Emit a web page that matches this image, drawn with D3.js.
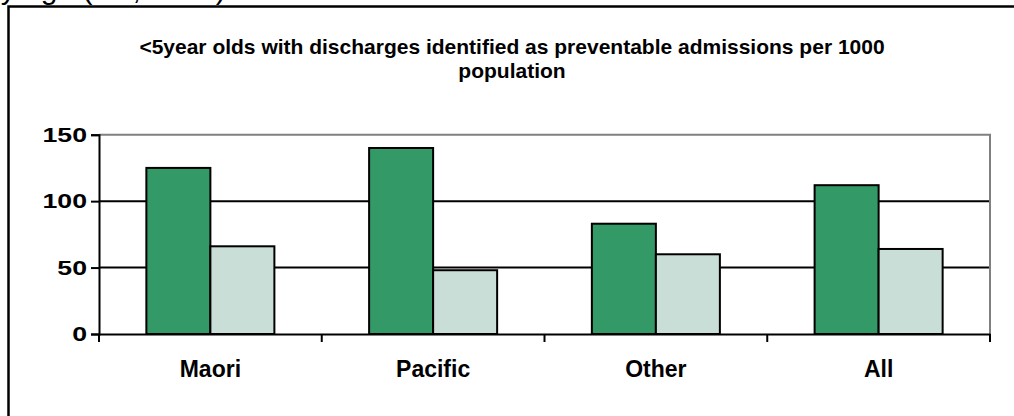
<!DOCTYPE html>
<html>
<head>
<meta charset="utf-8">
<script src="https://cdn.jsdelivr.net/npm/d3@7"></script>
<style>
  html, body { margin: 0; padding: 0; background: #fff; }
  svg { display: block; font-family: Arial, "Liberation Sans", sans-serif; }
</style>
</head>
<body>
<svg id="chart" width="1014" height="416"></svg>
<script>
// Preventable admissions, children under 5, per 1000 population
const categories = ["Maori", "Pacific", "Other", "All"];
const seriesNames = ["Series A", "Series B"];
const seriesA = [125, 140, 83, 112];
const seriesB = [66, 48, 60, 64];
const yTicks = [0, 50, 100, 150];
const titleLines = [
  "<5year olds with discharges identified as preventable admissions per 1000",
  "population"
];
const captionText = "by age (NZ, 2003)";

const colors = { "Series A": "#339966", "Series B": "#C9DED7" };

const svg = d3.select("#chart");
const plot = { left: 99, right: 990, top: 134.7, bottom: 334 };
const tickStretch = 1.27;

// caption line running off the top edge
svg.append("text")
  .attr("x", -16)
  .attr("y", -1)
  .attr("font-size", 30)
  .attr("fill", "#000")
  .text(captionText);

// chart frame (left and top edges fall inside the page)
svg.append("rect")
  .attr("x", 8.5).attr("y", 6.5)
  .attr("width", 1100).attr("height", 500)
  .attr("fill", "none")
  .attr("stroke", "#000")
  .attr("stroke-width", 2.5);

// title
const title = svg.append("text")
  .attr("text-anchor", "middle")
  .attr("font-size", 21)
  .attr("font-weight", "bold")
  .attr("fill", "#000");
titleLines.forEach((t, i) => {
  title.append("tspan").attr("x", 512).attr("y", 54 + i * 24).text(t);
});

// scales
const x0 = d3.scaleBand().domain(categories).range([plot.left, plot.right]).padding(0);
const x1 = d3.scaleBand().domain(seriesNames).range([0, x0.bandwidth()])
  .paddingInner(0).paddingOuter(0.74);
const y = d3.scaleLinear().domain([0, 150]).range([plot.bottom, plot.top]);

// gridlines
svg.append("g")
  .selectAll("line")
  .data(yTicks.filter(d => d > 0 && d < 150))
  .join("line")
  .attr("x1", plot.left).attr("x2", plot.right)
  .attr("y1", d => y(d)).attr("y2", d => y(d))
  .attr("stroke", "#000").attr("stroke-width", 2);

// plot area top and right edges
svg.append("path")
  .attr("d", `M${plot.left},${y(150)}H${plot.right}V${plot.bottom}`)
  .attr("fill", "none")
  .attr("stroke", "#808080")
  .attr("stroke-width", 2);

// bars
const rows = categories.map((c, i) => ({ cat: c, vals: [
  { key: "Series A", v: seriesA[i] },
  { key: "Series B", v: seriesB[i] }
]}));

svg.append("g")
  .selectAll("g")
  .data(rows)
  .join("g")
  .attr("transform", d => `translate(${x0(d.cat)},0)`)
  .selectAll("rect")
  .data(d => d.vals)
  .join("rect")
  .attr("x", d => x1(d.key))
  .attr("y", d => y(d.v))
  .attr("width", x1.bandwidth())
  .attr("height", d => y(0) - y(d.v))
  .attr("fill", d => colors[d.key])
  .attr("stroke", "#000")
  .attr("stroke-width", 2);

// y axis
const yAxis = svg.append("g")
  .attr("transform", `translate(${plot.left},0)`)
  .call(d3.axisLeft(y).tickValues(yTicks).tickSize(8).tickPadding(4));
yAxis.select(".domain").attr("stroke", "#000").attr("stroke-width", 2);
yAxis.selectAll(".tick line").attr("stroke", "#000").attr("stroke-width", 2);
yAxis.selectAll(".tick text")
  .attr("font-size", 21).attr("font-weight", "bold").attr("fill", "#000")
  .attr("font-family", "Arial, 'Liberation Sans', sans-serif")
  .attr("x", -12 / tickStretch)
  .attr("transform", `scale(${tickStretch},1)`);

// x axis
const xAxis = svg.append("g")
  .attr("transform", `translate(0,${plot.bottom})`)
  .call(d3.axisBottom(x0).tickSize(0).tickPadding(27));
xAxis.select(".domain").attr("stroke", "#000").attr("stroke-width", 2);
xAxis.selectAll(".tick text")
  .attr("font-size", 23).attr("font-weight", "bold").attr("fill", "#000")
  .attr("font-family", "Arial, 'Liberation Sans', sans-serif");

// category separator ticks
const bounds = categories.map(c => x0(c)).concat([plot.right]);
svg.append("g")
  .selectAll("line")
  .data(bounds)
  .join("line")
  .attr("x1", d => d).attr("x2", d => d)
  .attr("y1", plot.bottom).attr("y2", plot.bottom + 8)
  .attr("stroke", "#000").attr("stroke-width", 2);
</script>
</body>
</html>
